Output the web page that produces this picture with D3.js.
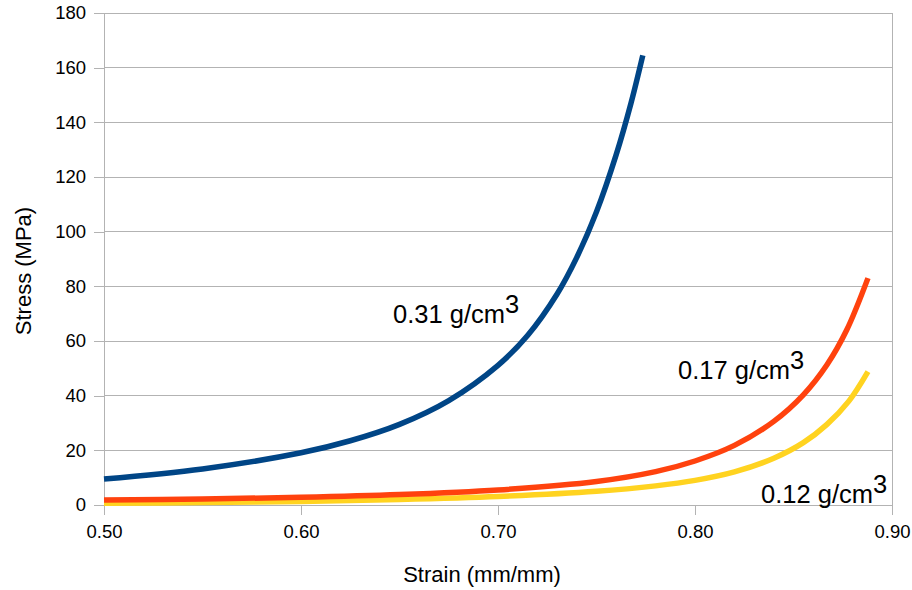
<!DOCTYPE html>
<html>
<head>
<meta charset="utf-8">
<script src="https://cdn.jsdelivr.net/npm/d3@7"></script>
<style>
  html, body { margin: 0; padding: 0; background: #fff; }
  svg { display: block; font-family: "Liberation Sans", Arial, sans-serif; }
</style>
</head>
<body>
<svg id="chart" width="912" height="590"></svg>
<script>
// ---- data ----
const xTicks = [0.50, 0.60, 0.70, 0.80, 0.90];
const yTicks = [0, 20, 40, 60, 80, 100, 120, 140, 160, 180];

const strain031 = [0.50, 0.55, 0.60, 0.625, 0.65, 0.675, 0.70, 0.715, 0.73, 0.74, 0.75, 0.76, 0.7675, 0.7735];
const stress031 = [9.5, 13.2, 19.1, 23.5, 29.5, 38.2, 51.1, 62.0, 77.2, 90.6, 107.3, 128.2, 147, 164.5];

const strain017 = [0.50, 0.55, 0.60, 0.65, 0.70, 0.75, 0.78, 0.80, 0.82, 0.84, 0.855, 0.867, 0.877, 0.8878];
const stress017 = [1.8, 2.2, 2.8, 3.8, 5.5, 8.6, 12.2, 16.1, 21.8, 30.6, 40.3, 51.3, 64, 83];

const strain012 = [0.50, 0.55, 0.60, 0.65, 0.70, 0.75, 0.78, 0.80, 0.82, 0.84, 0.855, 0.867, 0.878, 0.8878];
const stress012 = [0.6, 0.9, 1.3, 2.0, 3.1, 5.0, 7.0, 9.0, 12.1, 17.1, 22.8, 29.5, 37.9, 48.8];

const seriesNames = ["0.31 g/cm", "0.17 g/cm", "0.12 g/cm"];
const seriesColors = ["#004586", "#ff420e", "#ffd320"];

(function () {
// ---- layout ----
const svg = d3.select("#chart");
const pL = 104, pR = 892, pT = 13, pB = 505;
const x = d3.scaleLinear().domain([0.5, 0.9]).range([pL, pR]);
const y = d3.scaleLinear().domain([0, 180]).range([pB, pT]);
const grid = "#b3b3b3";

// horizontal gridlines
svg.append("g").selectAll("line").data(yTicks).join("line")
  .attr("x1", pL).attr("x2", pR)
  .attr("y1", d => y(d)).attr("y2", d => y(d))
  .attr("stroke", grid).attr("stroke-width", 1).attr("shape-rendering", "crispEdges");

// right border
svg.append("line").attr("x1", pR).attr("x2", pR).attr("y1", pT).attr("y2", pB + 10)
  .attr("stroke", grid).attr("shape-rendering", "crispEdges");

// y axis
const yAxis = svg.append("g").attr("transform", `translate(${pL},0)`)
  .call(d3.axisLeft(y).tickValues(yTicks).tickSize(10).tickPadding(8).tickFormat(d3.format("d")));
// x axis
const xAxis = svg.append("g").attr("transform", `translate(0,${pB})`)
  .call(d3.axisBottom(x).tickValues(xTicks).tickSize(10).tickPadding(10).tickFormat(d3.format(".2f")));

[yAxis, xAxis].forEach(g => {
  g.select(".domain").attr("stroke", grid).attr("shape-rendering", "crispEdges");
  g.selectAll(".tick line").attr("stroke", grid).attr("shape-rendering", "crispEdges");
  g.selectAll("text").attr("fill", "#000").attr("font-size", 18.5)
    .attr("font-family", '"Liberation Sans", Arial, sans-serif');
});
svg.append("line").attr("x1", pL).attr("x2", pL).attr("y1", pT).attr("y2", pB + 10)
  .attr("stroke", grid).attr("shape-rendering", "crispEdges");

// ---- lines ----
const line = d3.line().x(d => x(d[0])).y(d => y(d[1])).curve(d3.curveCatmullRom.alpha(0.5));
const series = [
  d3.zip(strain012, stress012),
  d3.zip(strain017, stress017),
  d3.zip(strain031, stress031)
];
const colorsDrawOrder = [seriesColors[2], seriesColors[1], seriesColors[0]];
series.forEach((s, i) => {
  svg.append("path").datum(s).attr("d", line)
    .attr("fill", "none").attr("stroke", colorsDrawOrder[i])
    .attr("stroke-width", 5.5).attr("stroke-linecap", "butt").attr("stroke-linejoin", "round");
});

// ---- annotations ----
const labelPos = [[393, 323], [678, 379], [761, 503]];
seriesNames.forEach((name, i) => {
  const t = svg.append("text").attr("x", labelPos[i][0]).attr("y", labelPos[i][1])
    .attr("font-size", 25.5).attr("fill", "#000");
  t.append("tspan").text(name);
  t.append("tspan").attr("dy", -10).text("3");
});

// ---- axis titles ----
svg.append("text").attr("x", 482).attr("y", 582).attr("text-anchor", "middle")
  .attr("font-size", 22).attr("fill", "#000").text("Strain (mm/mm)");
svg.append("text").attr("transform", "translate(31,271) rotate(-90)").attr("text-anchor", "middle")
  .attr("font-size", 22).attr("fill", "#000").text("Stress (MPa)");
})();
</script>
</body>
</html>
